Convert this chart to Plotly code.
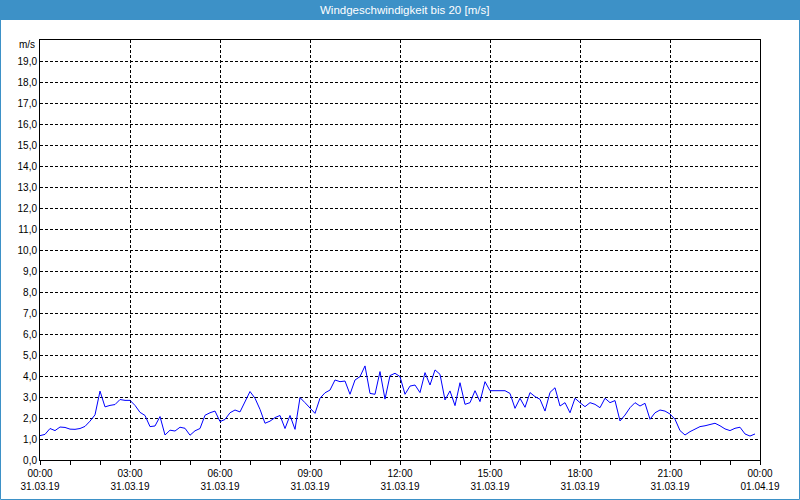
import plotly.graph_objects as go
import pandas as pd

# ---- data ----
title_text = "Windgeschwindigkeit bis 20 [m/s]"
unit_label = "m/s"
start_time = "2019-03-31 00:00"
step = "10min"
wind_speed = [
    1.16, 1.22, 1.50, 1.40, 1.57, 1.55, 1.47, 1.46, 1.50, 1.60, 1.85, 2.15,
    3.28, 2.53, 2.60, 2.64, 2.88, 2.84, 2.84, 2.60, 2.27, 2.12, 1.59, 1.62,
    2.07, 1.19, 1.42, 1.38, 1.56, 1.51, 1.18, 1.39, 1.50, 2.13, 2.25, 2.33,
    1.83, 1.93, 2.25, 2.38, 2.29, 2.78, 3.26, 2.94, 2.41, 1.75, 1.85, 2.02,
    2.12, 1.50, 2.12, 1.46, 2.97, 2.73, 2.49, 2.22, 2.94, 3.20, 3.33, 3.81,
    3.73, 3.76, 3.13, 3.81, 3.97, 4.48, 3.17, 3.13, 4.21, 2.90, 4.02, 4.13,
    3.97, 3.13, 3.52, 3.57, 3.21, 4.16, 3.57, 4.29, 4.08, 2.86, 3.29, 2.59,
    3.68, 2.65, 2.73, 3.30, 2.78, 3.73, 3.30, 3.30, 3.30, 3.30, 3.17, 2.46,
    2.94, 2.51, 3.21, 3.02, 2.89, 2.33, 3.22, 3.44, 2.57, 2.73, 2.25, 2.94,
    2.73, 2.54, 2.73, 2.65, 2.49, 2.94, 2.73, 2.83, 1.86, 2.14, 2.49, 2.73,
    2.57, 2.70, 1.94, 2.25, 2.38, 2.33, 2.19, 1.94, 1.40, 1.19, 1.35, 1.48,
    1.59, 1.63, 1.70, 1.75, 1.63, 1.48, 1.40, 1.51, 1.56, 1.24, 1.14, 1.24,
]
x_tick_times = ["2019-03-31 00:00", "2019-03-31 03:00", "2019-03-31 06:00",
                "2019-03-31 09:00", "2019-03-31 12:00", "2019-03-31 15:00",
                "2019-03-31 18:00", "2019-03-31 21:00", "2019-04-01 00:00"]
x_tick_labels = ["00:00<br>31.03.19", "03:00<br>31.03.19", "06:00<br>31.03.19",
                 "09:00<br>31.03.19", "12:00<br>31.03.19", "15:00<br>31.03.19",
                 "18:00<br>31.03.19", "21:00<br>31.03.19", "00:00<br>01.04.19"]
y_tick_values = list(range(0, 20))

times = pd.date_range(start_time, periods=len(wind_speed), freq=step)

# ---- layout geometry ----
W, H = 800, 500
ML, MR, MT, MB = 40, 40, 40, 40
PW, PH = W - ML - MR, H - MT - MB
BLUE = "#3d91c7"
FONT = "Liberation Sans"


def px_x(p):
    return (p - ML) / PW


def px_y(p):
    return 1 - (p - MT) / PH


fig = go.Figure()
fig.add_trace(go.Scatter(
    x=times, y=wind_speed, mode="lines",
    line=dict(color="#0000ff", width=1),
    hoverinfo="skip", showlegend=False,
))

fig.update_layout(
    width=W, height=H,
    margin=dict(l=ML, r=MR, t=MT, b=MB, autoexpand=False),
    paper_bgcolor="white", plot_bgcolor="white",
    separators=",.",
    font=dict(family=FONT, size=10, color="#000000"),
    showlegend=False,
)

fig.update_xaxes(
    range=[x_tick_times[0], x_tick_times[-1]],
    tickmode="array", tickvals=x_tick_times, ticktext=x_tick_labels,
    showline=True, linecolor="black", linewidth=1, mirror=True,
    showgrid=True, gridcolor="black", gridwidth=1, griddash="3px,2px",
    ticks="outside", ticklen=4, tickcolor="black",
    minor=dict(dtick=3600000, ticks="outside", ticklen=4, tickcolor="black", showgrid=False),
    zeroline=False, automargin=False,
    tickfont=dict(family=FONT, size=10),
)
fig.update_yaxes(
    range=[0, 20],
    tickmode="array", tickvals=y_tick_values, tickformat=".1f",
    showline=True, linecolor="black", linewidth=1, mirror=True,
    showgrid=True, gridcolor="black", gridwidth=1, griddash="3px,2px",
    ticks="", zeroline=False, automargin=False,
    tickfont=dict(family=FONT, size=10),
)

# title bar and outer frame
fig.add_shape(type="rect", xref="paper", yref="paper",
              x0=px_x(0), x1=px_x(W), y0=px_y(20), y1=px_y(0),
              fillcolor=BLUE, line=dict(width=0), layer="above")
fig.add_shape(type="rect", xref="paper", yref="paper",
              x0=px_x(0.5), x1=px_x(W - 0.5), y0=px_y(H - 0.5), y1=px_y(0.5),
              fillcolor="rgba(0,0,0,0)", line=dict(color=BLUE, width=1), layer="above")

fig.add_annotation(text=title_text, xref="paper", yref="paper",
                   x=px_x(W / 2 + 4), y=px_y(10), xanchor="center", yanchor="middle",
                   showarrow=False, font=dict(family=FONT, size=11.5, color="white"))
fig.add_annotation(text=unit_label, xref="paper", yref="paper",
                   x=px_x(37), y=px_y(45), xanchor="right", yanchor="middle",
                   showarrow=False, font=dict(family=FONT, size=10, color="black"))

fig.write_html(
    "out.html",
    config={"displayModeBar": False, "staticPlot": True},
    post_script="document.body.style.margin='0';document.body.style.overflow='hidden';",
)
